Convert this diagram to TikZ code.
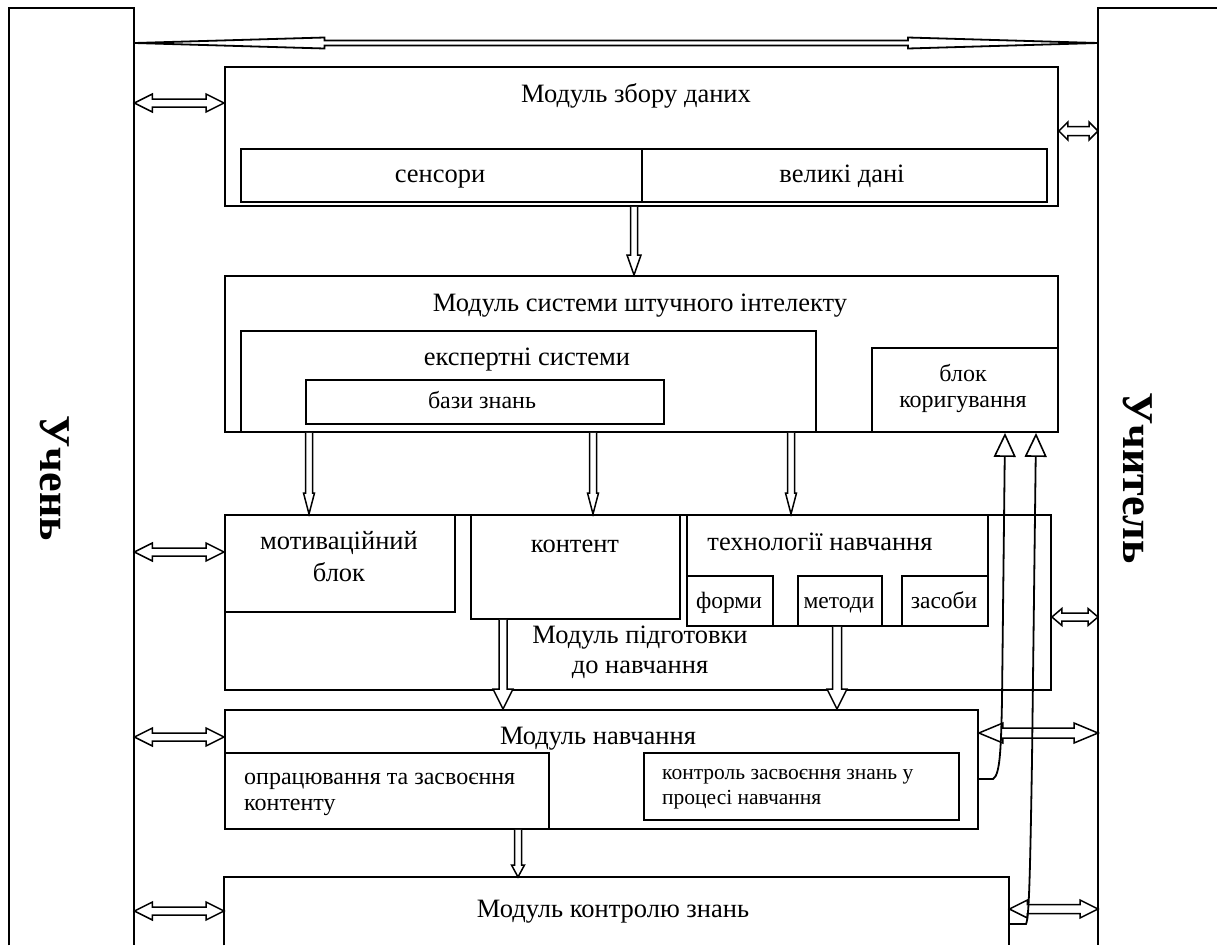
\documentclass[tikz,border=0pt]{standalone}
\usepackage{fontspec}
\setmainfont{Liberation Serif}
\usetikzlibrary{arrows.meta,calc}
\tikzset{
  box/.style={draw, line width=1.9pt, inner sep=0pt, anchor=north west},
  frame/.style={inner sep=0pt, anchor=north west},
  edge/.style={line width=1.9pt},
  tbig/.style={inner sep=0pt, font=\fontsize{26.5}{31}\selectfont, align=center},
  tmid/.style={inner sep=0pt, font=\fontsize{24}{26}\selectfont, align=center},
  tsmall/.style={inner sep=0pt, font=\fontsize{21.5}{25}\selectfont, align=left},
  tside/.style={inner sep=0pt, font=\fontsize{44}{48}\selectfont\bfseries, rotate=-90, anchor=base},
  blk/.style={draw, line width=1.5pt, fill=white},
  hdarrow/.style n args={3}{blk, to path={let \p1=(\tikztostart), \p2=(\tikztotarget) in
    (\x1,\y1) -- (\x1+#3pt,\y1+#2pt) -- (\x1+#3pt,\y1+#1pt) -- (\x2-#3pt,\y1+#1pt) -- (\x2-#3pt,\y1+#2pt) -- (\x2,\y1)
    -- (\x2-#3pt,\y1-#2pt) -- (\x2-#3pt,\y1-#1pt) -- (\x1+#3pt,\y1-#1pt) -- (\x1+#3pt,\y1-#2pt) -- cycle}},
  vdarrow/.style n args={3}{blk, to path={let \p1=(\tikztostart), \p2=(\tikztotarget) in
    (\x1-#1pt,\y1) -- (\x1-#1pt,\y2+#3pt) -- (\x1-#2pt,\y2+#3pt) -- (\x2,\y2) -- (\x1+#2pt,\y2+#3pt) -- (\x1+#1pt,\y2+#3pt) -- (\x1+#1pt,\y1)}},
  fb/.style={line width=1.8pt, -{Triangle[open, length=24pt, width=22pt, line width=1.6pt]}}
}
\begin{document}
\begin{tikzpicture}[x=1pt, y=-1pt]
\useasboundingbox (0,0) rectangle (1217,945);

% side frames
\node[frame, minimum width=125pt, minimum height=937pt] (uchen) at (9,8) {};
\node[frame, minimum width=119pt, minimum height=937pt] (uchyt) at (1098,8) {};
\draw[edge] (uchen.south west) -- (uchen.north west) -- (uchen.north east) -- (uchen.south east);
\draw[edge] (uchyt.north east) -- (uchyt.north west) -- (uchyt.south west);
\node[tside] (tuchen) at (40,478) {Учень};
\node[tside] (tuchyt) at (1123,478) {Учитель};

% module 1
\node[box, minimum width=833pt, minimum height=139pt] (zbir) at (224,66) {};
\node[box, minimum width=401pt, minimum height=53pt] (sens) at (240,148) {};
\node[box, minimum width=405pt, minimum height=53pt] (velyki) at (641,148) {};
\node[tbig, anchor=base] (tzbir) at (636,102) {Модуль збору даних};
\node[tbig, anchor=base] (tsens) at (440,182) {сенсори};
\node[tbig, anchor=base] (tvel) at (842,182) {великі дані};

% module 2
\node[box, minimum width=833pt, minimum height=156pt] (ai) at (224,275) {};
\node[box, minimum width=575pt, minimum height=101pt] (expert) at (240,330) {};
\node[box, minimum width=358pt, minimum height=44pt] (bazy) at (305,379) {};
\node[box, minimum width=186pt, minimum height=84pt] (koryg) at (871,347) {};
\node[tbig, anchor=base] (tai) at (640,311) {Модуль системи штучного інтелекту};
\node[tbig, anchor=base] (texp) at (527,365) {експертні системи};
\node[tmid, anchor=base] (tbazy) at (482,408) {бази знань};
\node[tmid] (tkor) at (963,388) {блок\\коригування};

% module 3
\node[box, minimum width=826pt, minimum height=175pt] (pidg) at (224,514) {};
\node[box, minimum width=230pt, minimum height=97pt] (motiv) at (224,514) {};
\node[box, minimum width=209pt, minimum height=104pt] (kont) at (470,514) {};
\node[box, minimum width=301pt, minimum height=111pt] (tekhn) at (686,514) {};
\node[box, minimum width=86pt, minimum height=50pt] (formy) at (686,575) {};
\node[box, minimum width=84pt, minimum height=50pt] (metody) at (797,575) {};
\node[box, minimum width=86pt, minimum height=50pt] (zasoby) at (901,575) {};
\node[tbig, font=\fontsize{26.5}{32}\selectfont] (tmotiv) at (339,557) {мотиваційний\\блок};
\node[tbig, anchor=base] (tkont) at (575,552) {контент};
\node[tbig, anchor=base] (ttekhn) at (820,550) {технології навчання};
\node[tbig, anchor=base, font=\fontsize{23.5}{26}\selectfont] (tformy) at (729,608) {форми};
\node[tbig, anchor=base, font=\fontsize{23.5}{26}\selectfont] (tmet) at (839,608) {методи};
\node[tbig, anchor=base, font=\fontsize{23.5}{26}\selectfont] (tzas) at (944,608) {засоби};
\node[tbig, font=\fontsize{26.5}{30}\selectfont] (tpidg) at (640,652) {Модуль підготовки\\до навчання};

% module 4
\node[box, minimum width=753pt, minimum height=119pt] (navch) at (224,709) {};
\node[box, minimum width=324pt, minimum height=76pt] (oprac) at (224,752) {};
\node[box, minimum width=315pt, minimum height=67pt] (kontr) at (643,752) {};
\node[tbig, anchor=base] (tnavch) at (598,744) {Модуль навчання};
\node[tsmall, font=\fontsize{24}{26}\selectfont, anchor=west] (toprac) at (244,794) {опрацювання та засвоєння\\контенту};
\node[tsmall, anchor=west] (tkontr) at (662,789) {контроль засвоєння знань у\\процесі навчання};

% module 5 (open at the bottom)
\node[frame, minimum width=785pt, minimum height=68pt] (kz) at (224,877) {};
\draw[line width=1.9pt] (kz.south west) -- (kz.north west) -- (kz.north east) -- (kz.south east);
\node[tbig, anchor=base] (tkz) at (613,917) {Модуль контролю знань};

% coordinates for arrow positions
\coordinate (ytop) at (0,43);
\coordinate (y1) at (0,103);
\coordinate (y1r) at (0,131);
\coordinate (y3) at (0,552);
\coordinate (y3r) at (0,617);
\coordinate (y4) at (0,737);
\coordinate (y4r) at (0,733);
\coordinate (y5) at (0,911);
\coordinate (y5r) at (0,909);
\coordinate (x634) at (634,0);
\coordinate (x309) at (309,0);
\coordinate (x593) at (593,0);
\coordinate (x791) at (791,0);
\coordinate (x503) at (503,0);
\coordinate (x837) at (837,0);
\coordinate (x518) at (518,0);
\coordinate (xf1) at (1005,0);
\coordinate (xf2) at (1036,0);
\coordinate (yf1) at (0,779);
\coordinate (yf2) at (0,924);

% top long arrow
\draw[hdarrow={2.5}{5.5}{190}, line width=1.8pt] (uchen.east |- ytop) to (uchyt.west |- ytop);

% left arrows
\draw[hdarrow={4}{9}{18}] (uchen.east |- y1) to (zbir.west |- y1);
\draw[hdarrow={4}{9}{18}] (uchen.east |- y3) to (pidg.west |- y3);
\draw[hdarrow={4}{9}{18}] (uchen.east |- y4) to (navch.west |- y4);
\draw[hdarrow={4}{9}{18}] (uchen.east |- y5) to (kz.west |- y5);

% right arrows
\draw[hdarrow={4.5}{9}{9}] (zbir.east |- y1r) to (uchyt.west |- y1r);
\draw[hdarrow={4}{8.5}{10}] (pidg.east |- y3r) to (uchyt.west |- y3r);
\draw[hdarrow={5}{10}{24}] (navch.east |- y4r) to (uchyt.west |- y4r);
\draw[hdarrow={4.5}{9}{18}] (kz.east |- y5r) to (uchyt.west |- y5r);

% vertical arrows
\draw[vdarrow={3.5}{7}{20}] (zbir.south -| x634) to (ai.north -| x634);
\draw[vdarrow={3.5}{5.5}{21}] (expert.south -| x309) to (pidg.north -| x309);
\draw[vdarrow={3.5}{5.5}{21}] (expert.south -| x593) to (pidg.north -| x593);
\draw[vdarrow={3.5}{5.5}{21}] (expert.south -| x791) to (pidg.north -| x791);
\draw[vdarrow={4}{10}{20}] (kont.south -| x503) to (navch.north -| x503);
\draw[vdarrow={4.5}{10}{20}] (metody.south -| x837) to (navch.north -| x837);
\draw[vdarrow={3.5}{6.5}{12}] (navch.south -| x518) to (kz.north -| x518);

% feedback arrows
\draw[fb] (navch.east |- yf1) -- (993,779) .. controls (1000,775) and (1001,750) .. (1002,700) -- (koryg.south -| xf1);
\draw[fb] (kz.east |- yf2) -- (1026,924) .. controls (1029,918) and (1030,880) .. (1032,760) -- (koryg.south -| xf2);
\end{tikzpicture}
\end{document}
